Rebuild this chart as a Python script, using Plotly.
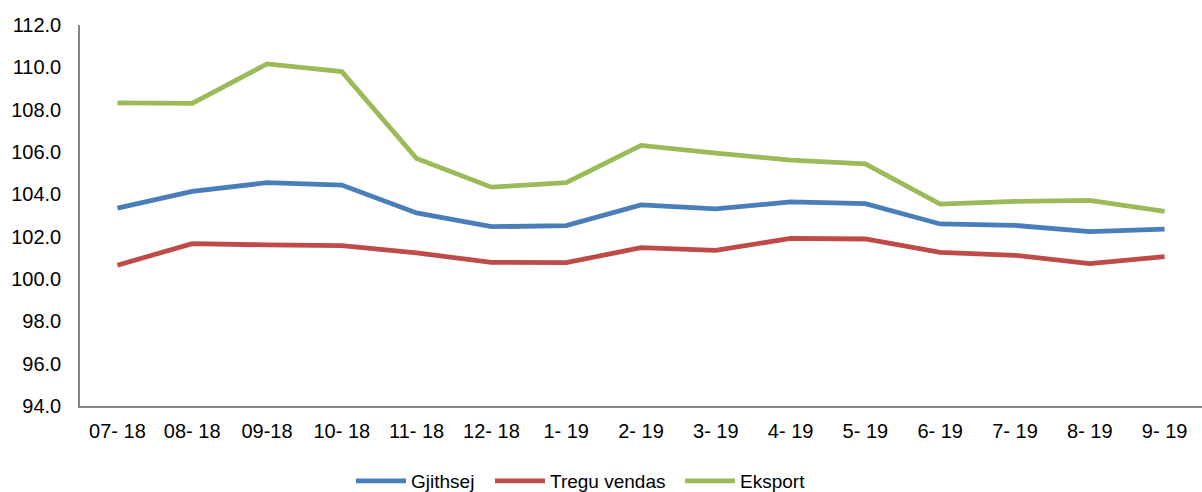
import plotly.graph_objects as go

categories = ["07- 18", "08- 18", "09-18", "10- 18", "11- 18", "12- 18", "1- 19", "2- 19",
              "3- 19", "4- 19", "5- 19", "6- 19", "7- 19", "8- 19", "9- 19"]
gjithsej = [103.35, 104.14, 104.55, 104.44, 103.12, 102.47, 102.52, 103.50,
            103.31, 103.64, 103.56, 102.60, 102.53, 102.24, 102.36]
tregu_vendas = [100.65, 101.67, 101.61, 101.58, 101.23, 100.79, 100.77, 101.48,
                101.35, 101.92, 101.89, 101.26, 101.12, 100.73, 101.06]
eksport = [108.32, 108.30, 110.16, 109.80, 105.69, 104.34, 104.55, 106.31,
           105.95, 105.62, 105.44, 103.54, 103.67, 103.71, 103.19]
y_ticks = [94, 96, 98, 100, 102, 104, 106, 108, 110, 112]

series = [("Gjithsej", gjithsej, "#4A7EBB", "legend"),
          ("Tregu vendas", tregu_vendas, "#BE4B48", "legend2"),
          ("Eksport", eksport, "#9BBB59", "legend3")]

fig = go.Figure()
for name, vals, color, leg in series:
    fig.add_trace(go.Scatter(x=categories, y=vals, name=name, mode="lines", legend=leg,
                             line=dict(color=color, width=4.8)))

tick_font = dict(family="Liberation Sans, Arial, sans-serif", size=20, color="#000000")
legend_font = dict(family="Liberation Sans, Arial, sans-serif", size=19, color="#000000")

def leg(xpx):
    return dict(orientation="h", xref="container", yref="container",
                x=xpx / 1202, xanchor="left", y=1 - 481 / 492, yanchor="middle",
                font=legend_font, bgcolor="rgba(0,0,0,0)", itemwidth=50)

fig.update_layout(
    width=1202, height=492,
    margin=dict(l=80, r=0, t=25, b=86, autoexpand=False),
    plot_bgcolor="white", paper_bgcolor="white",
    font=legend_font,
    showlegend=True,
    legend=leg(351), legend2=leg(490), legend3=leg(680),
    xaxis=dict(type="category", showline=True, linecolor="#868686", linewidth=1.5,
               showgrid=False, ticks="", ticklabelstandoff=6, tickfont=tick_font,
               range=[-0.5, len(categories) - 0.5]),
    yaxis=dict(range=[94, 112], tickvals=y_ticks, tickformat=".1f", showline=True,
               linecolor="#868686", linewidth=1.5, showgrid=False, zeroline=False,
               ticks="", ticklabelstandoff=13, tickfont=tick_font),
)

fig.write_html("out.html", config={"displayModeBar": False},
               post_script="document.body.style.margin='0';document.body.style.overflow='hidden';")
